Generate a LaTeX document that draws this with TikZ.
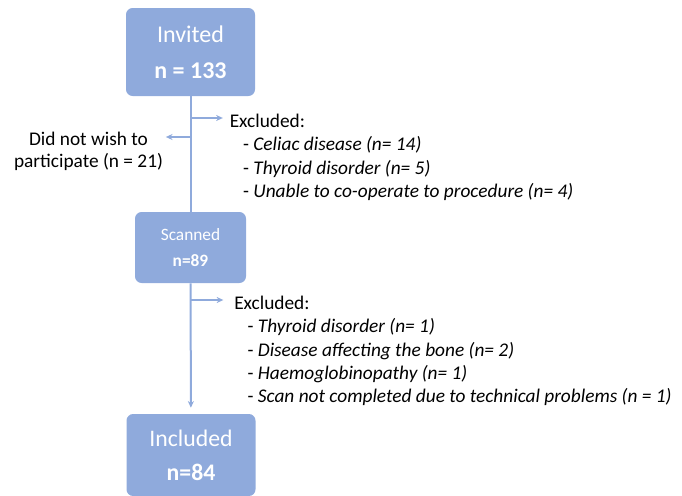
\documentclass[tikz,border=0pt]{standalone}
\usepackage{fontspec}
\setmainfont{Carlito}
\usepackage{tikz}
\usetikzlibrary{arrows.meta}
\definecolor{flowblue}{RGB}{143,170,220}

\begin{document}
\begin{tikzpicture}[x=0.75pt, y=-0.75pt,
    stage/.style={rounded corners=5pt, fill=flowblue, text=white, align=center, inner sep=0pt},
    trunk/.style={line width=1.5pt, flowblue},
    flow/.style={trunk, -{Stealth[length=5pt, width=4.5pt]}},
    note/.style={align=left, inner sep=0pt, font=\fontsize{14.5}{17.4}\selectfont}]
            \useasboundingbox (0,0) rectangle (682,496);

            % boxes down the middle
            \node[stage, minimum width=96.75pt, minimum height=66pt, font=\fontsize{18}{27}\selectfont] (invited) at (190.5,52) {Invited\\\textbf{n = 133}};
            \node[stage, minimum width=83.25pt, minimum height=53.25pt, font=\fontsize{13}{19.5}\selectfont] (scanned) at (190.5,247.5) {Scanned\\\textbf{n=89}};
            \node[stage, minimum width=96.75pt, minimum height=61.5pt, font=\fontsize{17.8}{25.5}\selectfont] (included) at (191,455) {Included\\\textbf{n=84}};

            % side texts
            \node[note, anchor=north west] (excl1) at (229.5,114) {Excluded:\\
                \hspace*{10pt}- \textit{Celiac disease (n= 14)}\\
                \hspace*{10pt}- \textit{Thyroid disorder (n= 5)}\\
                \hspace*{10pt}- \textit{Unable to co-operate to procedure (n= 4)}};
            \node[note, align=center, font=\fontsize{14.5}{16.5}\selectfont] (quit) at (88.5,151) {Did not wish to\\participate (n = 21)};
            \node[note, anchor=north west] (excl2) at (234,296) {Excluded:\\
                \hspace*{10pt}- \textit{Thyroid disorder (n= 1)}\\
                \hspace*{10pt}- \textit{Disease affecting the bone (n= 2)}\\
                \hspace*{10pt}- \textit{Haemoglobinopathy (n= 1)}\\
                \hspace*{10pt}- \textit{Scan not completed due to technical problems (n = 1)}};

            \coordinate (b1) at (190.5,118);
            \coordinate (b2) at (190.5,137);
            \coordinate (b3) at (190.5,300);

            \draw[trunk] (invited) -- (scanned);
            \draw[flow, shorten >=4.5pt] (scanned) -- (included);
            \draw[flow, shorten >=5pt] (b1) -- (excl1.west |- b1);
            \draw[flow, shorten >=2pt] (b2) -- (quit.east |- b2);
            \draw[flow, shorten >=8pt] (b3) -- (excl2.west |- b3);
        \end{tikzpicture}
\end{document}
